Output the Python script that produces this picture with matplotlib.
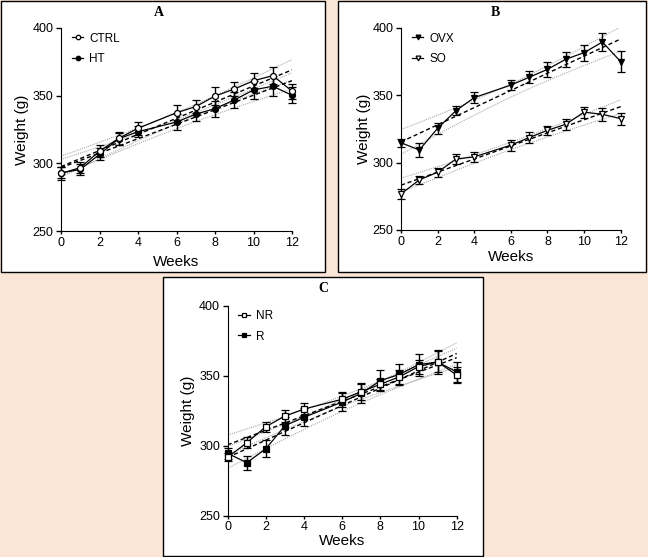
import numpy as np
import matplotlib
matplotlib.use("Agg")
import matplotlib.pyplot as plt
from matplotlib.patches import Rectangle

plt.rcParams['font.family'] = ['Liberation Sans', 'DejaVu Sans']

W, H = 648, 557

weeks = np.array([0, 1, 2, 3, 4, 6, 7, 8, 9, 10, 11, 12])

# panel A
ctrl = [292.5, 296.8, 309.0, 318.5, 325.9, 337.4, 341.9, 349.7, 354.9, 361.0, 364.8, 353.4]
ctrl_err = [4.5, 4, 4.5, 5, 5, 5.5, 5, 6.5, 5.5, 5.5, 6.5, 5.5]
ht = [293.0, 295.5, 306.6, 318.2, 323.4, 330.5, 336.4, 340.4, 346.8, 354.2, 357.0, 350.3]
ht_err = [4, 4, 4.5, 4.5, 4, 6, 5, 6, 6, 6.5, 7.5, 6]

# panel B
ovx = [314.8, 309.4, 325.5, 338.6, 348.3, 357.6, 363.4, 369.3, 376.8, 381.7, 389.6, 375.0]
ovx_err = [3, 5, 4, 3.5, 4, 4, 4.5, 5.5, 5.5, 6, 6.5, 8]
so = [276.8, 287.2, 292.9, 302.7, 304.3, 313.0, 318.6, 324.0, 328.5, 337.5, 335.9, 332.7]
so_err = [3.5, 3, 3.5, 4, 3.5, 4, 4, 3.5, 4, 4, 5, 4.5]

# panel C
nr = [291.8, 302.2, 313.7, 321.3, 326.3, 333.3, 338.7, 344.0, 349.4, 356.6, 360.0, 350.6]
nr_err = [3, 4, 3.5, 4, 4.5, 5.5, 6, 4, 5, 5, 7.5, 6]
r = [294.6, 287.9, 297.9, 314.4, 320.4, 331.3, 337.5, 346.6, 351.1, 358.0, 360.0, 352.8]
r_err = [4, 5, 6, 6.5, 6.5, 6.5, 7, 7.5, 7.5, 8, 8.5, 7.5]


def px_axes(fig, x0, x1, ytop, ybot):
    return fig.add_axes([x0 / W, 1 - ybot / H, (x1 - x0) / W, (ybot - ytop) / H])


def fit_line(ax, x, y):
    # linear regression with 95% confidence band
    y = np.asarray(y)
    b, a = np.polyfit(x, y, 1)
    xs = np.linspace(0, 12, 100)
    yhat = a + b * xs
    n = len(x)
    s = np.sqrt(np.sum((y - (a + b * x)) ** 2) / (n - 2))
    se = s * np.sqrt(1 / n + (xs - x.mean()) ** 2 / np.sum((x - x.mean()) ** 2))
    t = 2.228
    ax.plot(xs, yhat, color='black', ls=(0, (3, 2)), lw=1.0, zorder=2)
    ax.plot(xs, yhat + t * se, color='#a8a8a8', ls=(0, (1, 1)), lw=0.8, zorder=1)
    ax.plot(xs, yhat - t * se, color='#a8a8a8', ls=(0, (1, 1)), lw=0.8, zorder=1)


def series(ax, y, err, marker, filled, label, ms):
    fc = 'black' if filled else 'white'
    h = ax.errorbar(weeks, y, yerr=err, color='black', lw=0.9, marker=marker, ms=ms,
                    mfc=fc, mec='black', mew=0.9, elinewidth=1.0, capsize=2.6,
                    capthick=1.0, label=label, clip_on=False, zorder=4 if not filled else 3)
    for art in h.lines[1] + h.lines[2]:
        art.set_clip_on(False)
    return h.lines[0]


def panel(ax, s1, s2, xlab_y, ylab_x):
    ax.set_zorder(2)
    ax.set_xlim(0, 12)
    ax.set_ylim(250, 400)
    ax.set_xticks([0, 2, 4, 6, 8, 10, 12])
    ax.set_yticks([250, 300, 350, 400])
    ax.spines['top'].set_visible(False)
    ax.spines['right'].set_visible(False)
    ax.tick_params(labelsize=9, width=1)
    ax.tick_params(axis='y', length=3.5, pad=2)
    ax.tick_params(axis='x', length=2.5, pad=1.5)
    ax.set_facecolor('none')
    ax.set_xlabel('Weeks', fontsize=11)
    ax.set_ylabel('Weight (g)', fontsize=11)
    ax.xaxis.set_label_coords(0.5, xlab_y)
    ax.yaxis.set_label_coords(ylab_x, 0.5)
    for y, err, marker, filled, label, ms in (s1, s2):
        fit_line(ax, weeks, y)
    hs = {}
    for y, err, marker, filled, label, ms in sorted((s1, s2), key=lambda s: not s[3]):
        hs[label] = series(ax, y, err, marker, filled, label, ms)
    ax.legend([hs[s1[4]], hs[s2[4]]], [s1[4], s2[4]], loc='upper left',
              bbox_to_anchor=(0.0, 1.03), frameon=False, fontsize=8.5,
              handlelength=1.0, handletextpad=0.5, labelspacing=0.7,
              markerscale=0.75)


fig = plt.figure(figsize=(W / 100, H / 100), dpi=100)
fig.patch.set_facecolor('#fbe5d6')

# white panel boxes
for x0, y0, x1, y1 in [(1, 1, 325, 272), (338, 1, 646, 272), (163, 277, 483, 556)]:
    fig.patches.append(Rectangle((x0 / W, 1 - y1 / H), (x1 - x0) / W, (y1 - y0) / H,
                                 transform=fig.transFigure, facecolor='white',
                                 edgecolor='black', lw=1.0, zorder=-1))

axA = px_axes(fig, 61, 292, 28, 231)
panel(axA, (ctrl, ctrl_err, 'o', False, 'CTRL', 4.3), (ht, ht_err, 'o', True, 'HT', 4.3), -0.118, -0.14)

axB = px_axes(fig, 401, 620.7, 28, 230)
panel(axB, (ovx, ovx_err, 'v', True, 'OVX', 4.6), (so, so_err, 'v', False, 'SO', 4.6), -0.1, -0.137)

axC = px_axes(fig, 227.7, 456.7, 306, 515.7)
panel(axC, (nr, nr_err, 's', False, 'NR', 4.3), (r, r_err, 's', True, 'R', 4.3), -0.088, -0.142)

for txt, x, y in [('A', 159, 12), ('B', 495, 12), ('C', 323, 289)]:
    fig.text(x / W, 1 - y / H, txt, ha='center', va='center', fontsize=10,
             fontweight='bold', family='Liberation Serif')

fig.savefig('out.png', dpi=100, facecolor=fig.get_facecolor())
